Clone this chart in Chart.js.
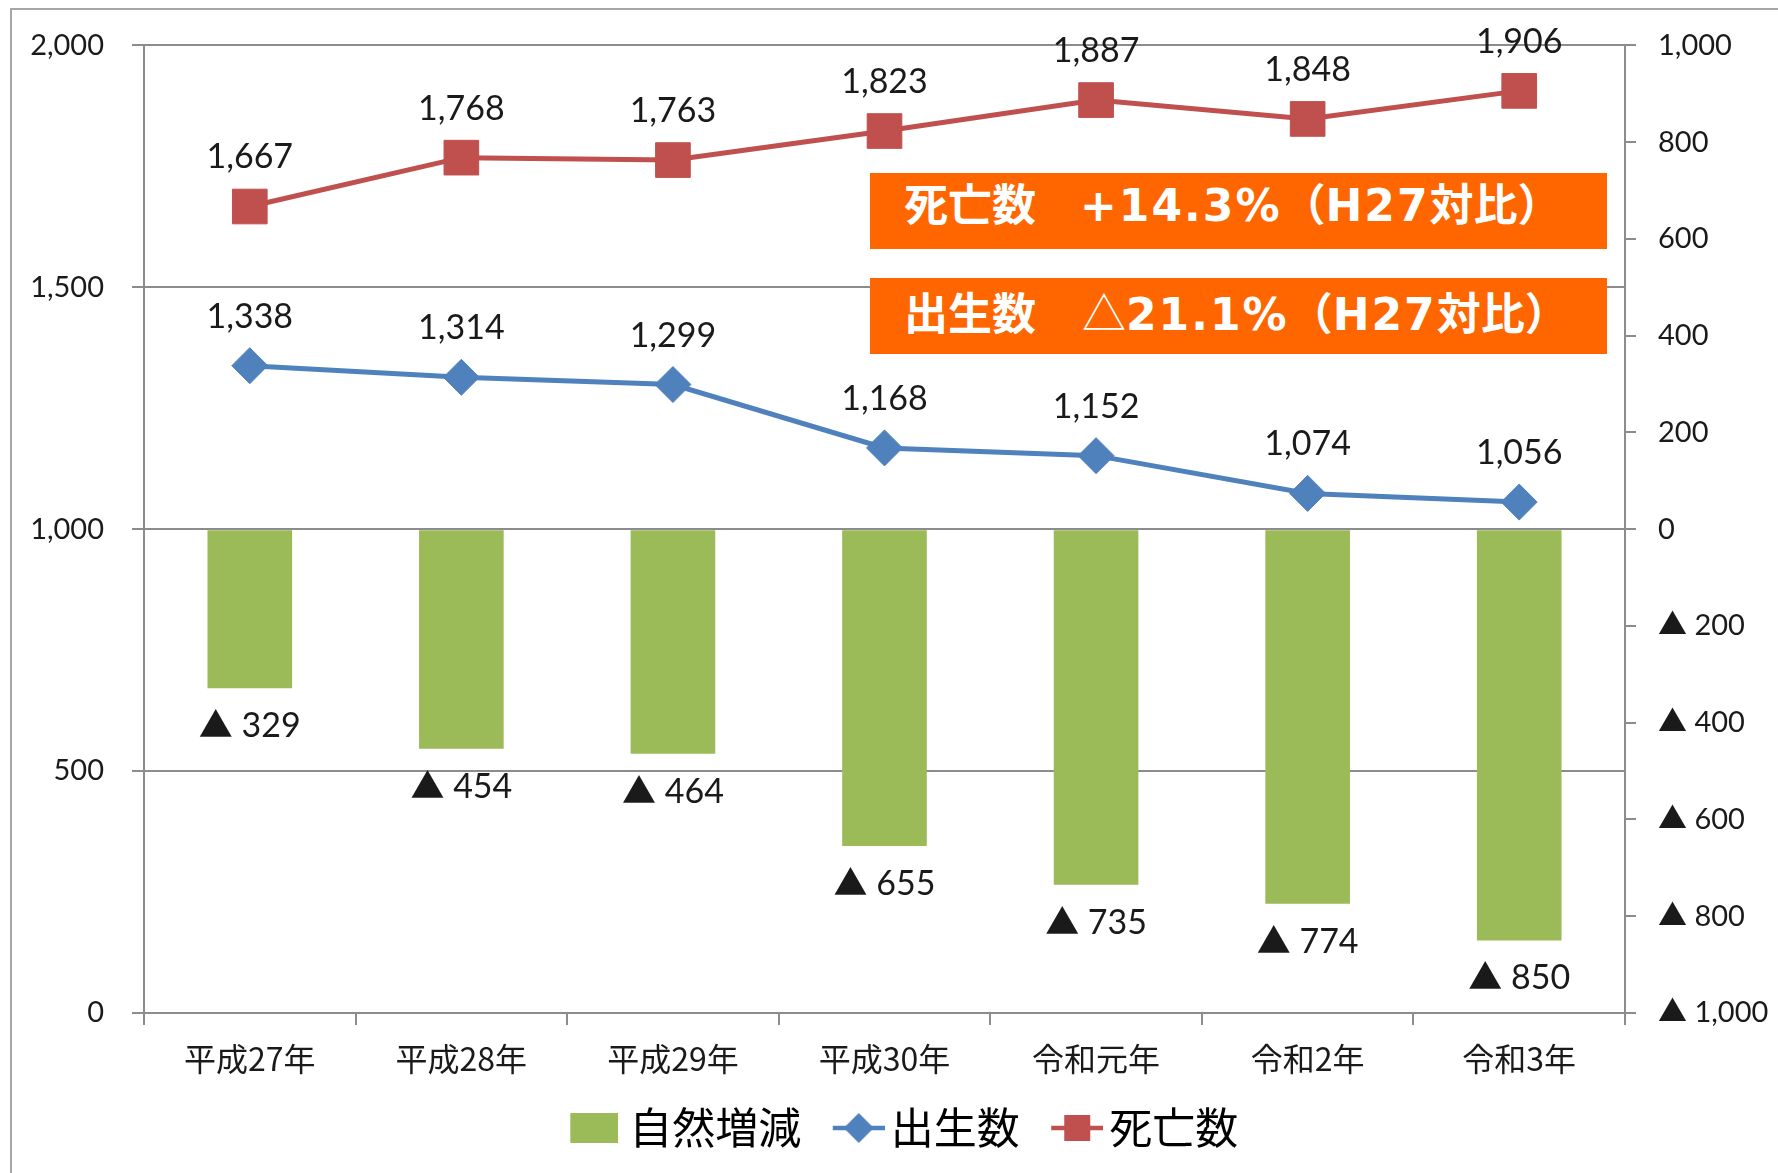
<!DOCTYPE html>
<html><head><meta charset="utf-8">
<script src="https://cdn.jsdelivr.net/npm/chart.js@4.4.1/dist/chart.umd.min.js"></script>
<style>
html,body{margin:0;padding:0;background:#fff;overflow:hidden}
#wrap{position:relative;width:1778px;height:1173px;overflow:hidden;background:#fff}
#frame{position:absolute;left:10px;top:8px;width:1800px;height:1200px;border:2px solid #a6a6a6;box-sizing:border-box}
#chart-box{position:absolute;left:0;top:0;width:1778px;height:1173px}
.note{position:absolute;left:870px;width:737px;height:76px;background:#FF6600;color:#fff;font-family:"DejaVu Sans","Noto Sans CJK JP",sans-serif;font-weight:bold;font-size:44px;line-height:66px;padding-left:34px;box-sizing:border-box;white-space:nowrap;overflow:hidden}
.note .lat{letter-spacing:2px}
.note .tri{font-family:"Noto Sans CJK JP",sans-serif;font-weight:normal;margin-left:2px}
</style></head>
<body>
<div id="wrap">
<div id="frame"></div>
<div id="chart-box"><canvas id="c"></canvas></div>
<div class="note" style="top:173px">死亡数　<span class="lat">+14.3%</span>（<span class="lat">H27</span>対比）</div>
<div class="note" style="top:278px">出生数　<span class="tri">△</span><span class="lat">21.1%</span>（<span class="lat">H27</span>対比）</div>
</div>
<script>
// ---- data ----
const categories = ['平成27年','平成28年','平成29年','平成30年','令和元年','令和2年','令和3年'];
const naturalChange = [-329, -454, -464, -655, -735, -774, -850];
const births = [1338, 1314, 1299, 1168, 1152, 1074, 1056];
const deaths = [1667, 1768, 1763, 1823, 1887, 1848, 1906];
const seriesNames = ['自然増減', '出生数', '死亡数'];
const leftAxisRange = [0, 2000, 500];
const rightAxisRange = [-1000, 1000, 200];

// ---- styling ----
const GREEN = '#9BBB59', BLUE = '#4F81BD', RED = '#C0504D';
const AXIS = '#8c8c8c', TEXT = '#1a1a1a';
const NUMFONT = 'Lato, "Noto Sans CJK JP", sans-serif';
const JPFONT = '"Noto Sans CJK JP", sans-serif';
const fmt = n => Number(n).toLocaleString('en-US');

const LEG_FONT = 43, LEG_W = 50;
function makeIcon(kind, color, contentW, gap) {
  const half = LEG_FONT / 2;
  const right = LEG_W + half - gap, left = right - contentW, center = LEG_W / 2;
  const halfW = Math.max(center - left, right - center);
  const w = Math.round(halfW * 2), h = 36;
  const off = left - (center - halfW);
  const cv = document.createElement('canvas');
  cv.width = w; cv.height = h;
  const g = cv.getContext('2d');
  const cy = h / 2;
  if (kind === 'box') {
    g.fillStyle = color; g.fillRect(off, cy - 15, contentW, 30);
  } else {
    g.strokeStyle = color; g.lineWidth = 4.5;
    g.beginPath(); g.moveTo(off, cy); g.lineTo(off + contentW, cy); g.stroke();
    g.fillStyle = color;
    const cx = off + contentW / 2;
    if (kind === 'diamond') {
      g.beginPath(); g.moveTo(cx - 15, cy); g.lineTo(cx, cy - 15); g.lineTo(cx + 15, cy); g.lineTo(cx, cy + 15); g.closePath(); g.fill();
    } else {
      g.fillRect(cx - 13, cy - 13, 26, 26);
    }
  }
  return cv;
}
const icons = [makeIcon('box', GREEN, 48, 11), makeIcon('diamond', BLUE, 52, 6), makeIcon('square', RED, 52, 6)];

const valueLabels = {
  id: 'valueLabels',
  afterDatasetsDraw(chart) {
    const ctx = chart.ctx;
    ctx.save();
    ctx.fillStyle = TEXT;
    ctx.textAlign = 'center';
    ctx.textBaseline = 'middle';
    ctx.font = '34px ' + NUMFONT;
    chart.data.datasets.forEach((ds, i) => {
      const meta = chart.getDatasetMeta(i);
      meta.data.forEach((el, j) => {
        const v = ds.data[j];
        if (ds.type === 'bar') {
          ctx.fillText((v < 0 ? '▲ ' : '') + fmt(Math.abs(v)), el.x, el.y + 38);
        } else {
          ctx.fillText(fmt(v), el.x, el.y - 49);
        }
      });
    });
    ctx.restore();
  }
};

new Chart(document.getElementById('c'), {
  data: {
    labels: categories,
    datasets: [
      { type: 'bar', label: seriesNames[0], data: naturalChange, yAxisID: 'y1',
        backgroundColor: GREEN, borderWidth: 0, barPercentage: 0.4, categoryPercentage: 1 },
      { type: 'line', label: seriesNames[1], data: births, yAxisID: 'y',
        borderColor: BLUE, backgroundColor: BLUE, borderWidth: 5, tension: 0,
        pointStyle: 'rectRot', pointRadius: 18, pointBackgroundColor: BLUE, pointBorderColor: BLUE, pointBorderWidth: 1 },
      { type: 'line', label: seriesNames[2], data: deaths, yAxisID: 'y',
        borderColor: RED, backgroundColor: RED, borderWidth: 5, tension: 0,
        pointStyle: 'rect', pointRadius: 24.5, pointBackgroundColor: RED, pointBorderColor: RED, pointBorderWidth: 1 }
    ]
  },
  options: {
    responsive: true, maintainAspectRatio: false, animation: false, events: [],
    layout: { padding: { top: 43, bottom: 13.5, left: 18, right: 0 } },
    scales: {
      x: {
        offset: true,
        grid: { display: true, drawOnChartArea: false, drawTicks: true, tickLength: 12, offset: true, color: AXIS, lineWidth: 2 },
        border: { display: true, color: AXIS, width: 2 },
        ticks: { font: { family: JPFONT, size: 32 }, color: TEXT, padding: 15, maxRotation: 0, autoSkip: false },
        afterFit(s) { s.height = 75.5; }
      },
      y: {
        position: 'left', min: leftAxisRange[0], max: leftAxisRange[1],
        ticks: { stepSize: leftAxisRange[2], callback: v => fmt(v), font: { family: NUMFONT, size: 29 }, color: TEXT, padding: 28 },
        grid: { color: AXIS, lineWidth: 2, tickLength: 12, drawTicks: true },
        border: { display: true, color: AXIS, width: 2 },
        afterFit(s) { s.width = 126; }
      },
      y1: {
        position: 'right', min: rightAxisRange[0], max: rightAxisRange[1],
        ticks: { stepSize: rightAxisRange[2], callback: v => (v < 0 ? '▲ ' + fmt(-v) : fmt(v)), font: { family: NUMFONT, size: 29 }, color: TEXT, padding: 22 },
        grid: { drawOnChartArea: false, color: AXIS, lineWidth: 2, tickLength: 11, drawTicks: true },
        border: { display: true, color: AXIS, width: 2 },
        afterFit(s) { s.width = 153; }
      }
    },
    plugins: {
      tooltip: { enabled: false },
      legend: {
        position: 'bottom',
        labels: {
          usePointStyle: true, pointStyleWidth: LEG_W, padding: 18, color: '#000',
          font: { family: JPFONT, size: LEG_FONT },
          generateLabels(chart) {
            return chart.data.datasets.map((ds, i) => ({
              text: ds.label, pointStyle: icons[i], fillStyle: ds.backgroundColor,
              strokeStyle: ds.borderColor, lineWidth: 0, hidden: false, datasetIndex: i, fontColor: '#000'
            }));
          }
        }
      }
    }
  },
  plugins: [valueLabels]
});
</script>
</body></html>
